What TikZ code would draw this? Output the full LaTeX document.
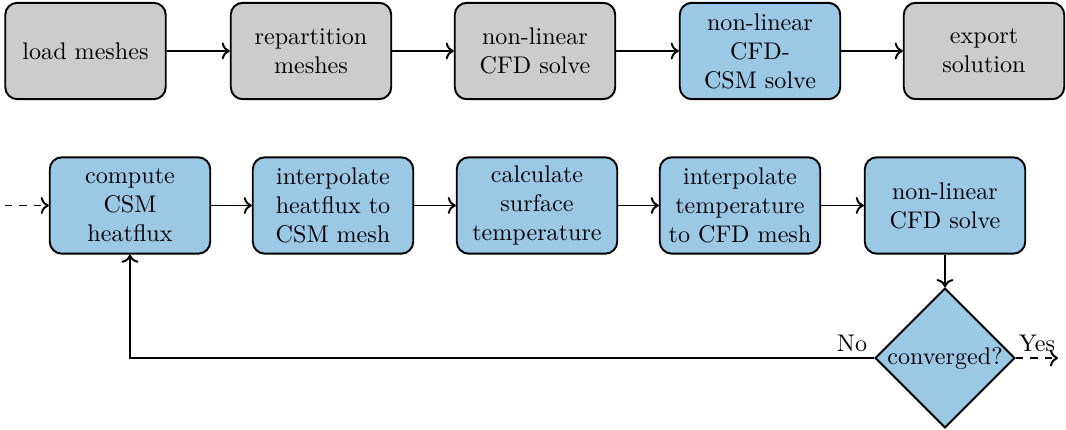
\documentclass[tikz,border=0pt]{standalone}
\usetikzlibrary{shapes.geometric,arrows.meta}
\definecolor{boxgray}{RGB}{204,204,204}
\definecolor{boxblue}{RGB}{155,201,229}
\begin{document}
\begin{tikzpicture}[x=0.415pt,y=-0.415pt,
  box/.style={draw,thick,rounded corners=5pt,minimum width=66.6pt,minimum height=40pt,align=center,inner sep=1pt},
  gbox/.style={box,fill=boxgray},
  bbox/.style={box,fill=boxblue},
  arr/.style={thick,->},
  decision/.style={diamond,draw,thick,fill=boxblue,aspect=1,minimum width=58pt,minimum height=58pt,inner sep=0pt}]
\useasboundingbox (0,0) rectangle (1066,430);
% top row
\node[gbox] (t1) at (85.5,51) {load meshes};
\node[gbox] (t2) at (311,51) {repartition\\meshes};
\node[gbox] (t3) at (535,51) {non-linear\\CFD solve};
\node[bbox] (t4) at (760,51) {non-linear\\CFD-\\CSM solve};
\node[gbox] (t5) at (984,51) {export\\solution};
\draw[arr] (t1) -- (t2);
\draw[arr] (t2) -- (t3);
\draw[arr] (t3) -- (t4);
\draw[arr] (t4) -- (t5);
% bottom row
\node[bbox] (b1) at (130,205.5) {compute\\CSM\\heatflux};
\node[bbox] (b2) at (333,205.5) {interpolate\\heatflux to\\CSM mesh};
\node[bbox] (b3) at (537,205.5) {calculate\\surface\\temperature};
\node[bbox] (b4) at (740,205.5) {interpolate\\temperature\\to CFD mesh};
\node[bbox] (b5) at (945,205.5) {non-linear\\CFD solve};
\node[decision] (d) at (945,358) {converged?};
\coordinate (in) at (5,205.5);
\coordinate (out) at (1058,358);
\draw[arr,dashed] (in) -- (b1);
\draw[arr] (b1) -- (b2);
\draw[arr] (b2) -- (b3);
\draw[arr] (b3) -- (b4);
\draw[arr] (b4) -- (b5);
\draw[arr] (b5) -- (d);
\draw[arr] (d.west) -| (b1.south);
\draw[arr,dashed] (d.east) -- (out);
\node (no) at (852,343) {No};
\node (yes) at (1037,343) {Yes};
\end{tikzpicture}
\end{document}
